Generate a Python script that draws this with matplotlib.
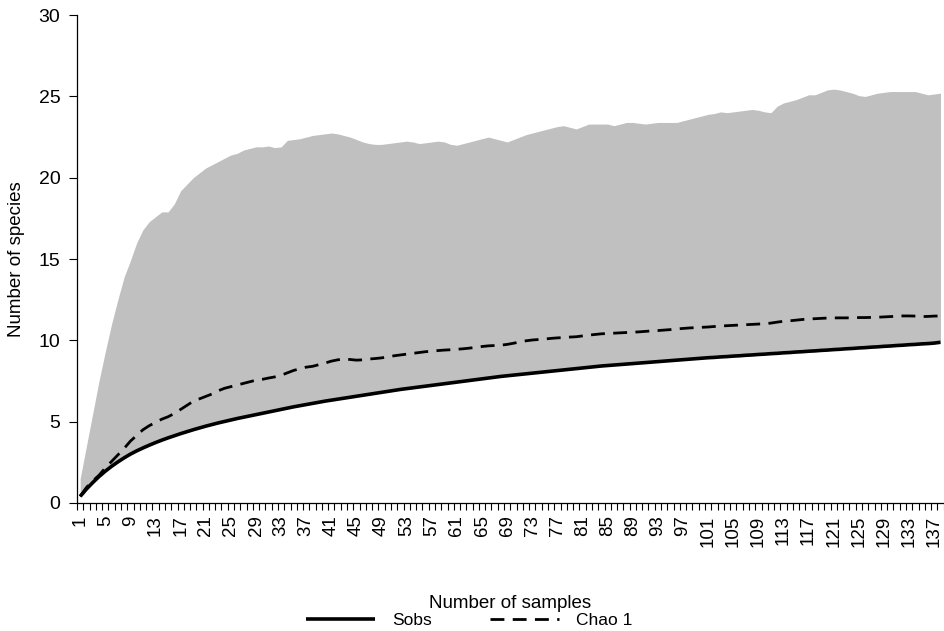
import numpy as np
import matplotlib
matplotlib.use("Agg")
import matplotlib.pyplot as plt
from matplotlib.ticker import FixedLocator

plt.rcParams['font.family'] = ['Liberation Sans', 'DejaVu Sans']

# samples 1..138
samples = list(range(1, 139))

sobs = [0.40, 0.85, 1.25, 1.62, 1.95, 2.25, 2.52, 2.77, 3.00, 3.20,
        3.38, 3.55, 3.71, 3.86, 4.00, 4.13, 4.26, 4.38, 4.50, 4.61,
        4.72, 4.82, 4.92, 5.01, 5.10, 5.19, 5.27, 5.35, 5.43, 5.51,
        5.59, 5.67, 5.75, 5.83, 5.91, 5.98, 6.05, 6.12, 6.19, 6.26,
        6.32, 6.38, 6.44, 6.50, 6.56, 6.62, 6.68, 6.74, 6.80, 6.86,
        6.92, 6.98, 7.03, 7.08, 7.13, 7.18, 7.23, 7.28, 7.33, 7.38,
        7.43, 7.48, 7.53, 7.58, 7.63, 7.68, 7.73, 7.78, 7.82, 7.86,
        7.90, 7.94, 7.98, 8.02, 8.06, 8.10, 8.14, 8.18, 8.22, 8.26,
        8.30, 8.34, 8.38, 8.42, 8.45, 8.48, 8.51, 8.54, 8.57, 8.60,
        8.63, 8.66, 8.69, 8.72, 8.75, 8.78, 8.81, 8.84, 8.87, 8.90,
        8.93, 8.95, 8.98, 9.00, 9.03, 9.05, 9.08, 9.10, 9.13, 9.15,
        9.18, 9.20, 9.23, 9.25, 9.28, 9.30, 9.33, 9.35, 9.38, 9.40,
        9.43, 9.45, 9.48, 9.50, 9.53, 9.55, 9.58, 9.60, 9.63, 9.65,
        9.68, 9.70, 9.73, 9.75, 9.78, 9.80, 9.83, 9.88]

chao1 = [0.40, 0.95, 1.35, 1.70, 2.15, 2.55, 2.95, 3.35, 3.80, 4.15,
         4.50, 4.75, 4.95, 5.15, 5.30, 5.50, 5.75, 6.00, 6.25, 6.40,
         6.55, 6.70, 6.90, 7.05, 7.15, 7.25, 7.35, 7.45, 7.55, 7.60,
         7.68, 7.75, 7.85, 8.00, 8.15, 8.25, 8.35, 8.40, 8.50, 8.60,
         8.72, 8.80, 8.85, 8.82, 8.78, 8.80, 8.85, 8.88, 8.92, 8.98,
         9.05, 9.10, 9.15, 9.20, 9.25, 9.30, 9.33, 9.37, 9.40, 9.42,
         9.45, 9.48, 9.52, 9.57, 9.62, 9.66, 9.68, 9.70, 9.75, 9.82,
         9.90, 9.97, 10.02, 10.05, 10.08, 10.12, 10.15, 10.17, 10.20, 10.22,
         10.27, 10.32, 10.36, 10.40, 10.42, 10.44, 10.46, 10.48, 10.50, 10.52,
         10.55, 10.58, 10.60, 10.63, 10.66, 10.70, 10.73, 10.76, 10.78, 10.80,
         10.82, 10.85, 10.88, 10.90, 10.92, 10.94, 10.96, 10.98, 11.00, 11.02,
         11.06, 11.12, 11.17, 11.20, 11.24, 11.28, 11.31, 11.33, 11.35, 11.37,
         11.38, 11.38, 11.38, 11.39, 11.40, 11.40, 11.41, 11.42, 11.44, 11.46,
         11.48, 11.50, 11.50, 11.49, 11.46, 11.47, 11.49, 11.50]

# upper 95% bound of Chao 1 (grey band)
upper = [1.5, 3.5, 5.5, 7.5, 9.3, 11.0, 12.5, 13.9, 14.9, 16.0,
         16.8, 17.3, 17.6, 17.9, 17.9, 18.4, 19.2, 19.6, 20.0, 20.3,
         20.6, 20.8, 21.0, 21.2, 21.4, 21.5, 21.7, 21.8, 21.9, 21.9,
         21.95, 21.85, 21.9, 22.3, 22.35, 22.4, 22.5, 22.6, 22.65, 22.7,
         22.75, 22.7, 22.6, 22.5, 22.35, 22.2, 22.1, 22.05, 22.05, 22.1,
         22.15, 22.2, 22.25, 22.2, 22.1, 22.15, 22.2, 22.25, 22.2, 22.05,
         22.0, 22.1, 22.2, 22.3, 22.4, 22.5, 22.4, 22.3, 22.2, 22.35,
         22.5, 22.65, 22.75, 22.85, 22.95, 23.05, 23.15, 23.2, 23.1, 23.0,
         23.15, 23.3, 23.3, 23.3, 23.3, 23.2, 23.3, 23.4, 23.4, 23.35,
         23.3, 23.35, 23.4, 23.4, 23.4, 23.4, 23.5, 23.6, 23.7, 23.8,
         23.9, 23.95, 24.05, 24.0, 24.05, 24.1, 24.15, 24.2, 24.15, 24.05,
         24.0, 24.4, 24.6, 24.7, 24.8, 24.95, 25.1, 25.1, 25.25, 25.4,
         25.45, 25.4, 25.3, 25.2, 25.05, 25.0, 25.1, 25.2, 25.25, 25.3,
         25.3, 25.3, 25.3, 25.3, 25.2, 25.1, 25.15, 25.2]

tick_labels = samples[::4]

fig = plt.figure(figsize=(9.44, 6.31), dpi=100)
ax = fig.add_axes([0.0816, 0.203, 0.918, 0.773])

ax.fill_between(samples, sobs, upper, color='#c0c0c0', linewidth=0)
ax.plot(samples, sobs, color='black', lw=2.6, label='Sobs', solid_capstyle='butt')
ax.plot(samples, chao1, color='black', lw=2.0, ls=(0, (5, 3)), label='Chao 1')

ax.set_xlim(0.5, 138.5)
ax.set_ylim(0, 30)
ax.set_yticks([0, 5, 10, 15, 20, 25, 30])
ax.set_xticks(tick_labels)
ax.set_xticklabels([str(t) for t in tick_labels], rotation=90)
ax.xaxis.set_minor_locator(FixedLocator(np.arange(0.5, 139, 1)))
ax.tick_params(axis='x', which='major', length=0, pad=9, labelsize=13.5)
ax.tick_params(axis='x', which='minor', length=5, width=0.8, direction='out')
ax.tick_params(axis='y', length=6, width=0.8, labelsize=14, pad=6)

for s in ['top', 'right']:
    ax.spines[s].set_visible(False)
for s in ['left', 'bottom']:
    ax.spines[s].set_linewidth(0.9)

ax.set_xlabel('Number of samples', fontsize=13.5, labelpad=35)
ax.set_ylabel('Number of species', fontsize=13.5, labelpad=10)

fig.legend(loc='center', bbox_to_anchor=(0.497, 0.017), ncol=2, frameon=False,
           fontsize=12.5, handlelength=4, columnspacing=3.3, handletextpad=1.0,
           borderpad=0, borderaxespad=0)

fig.savefig('out.png', dpi=100)
